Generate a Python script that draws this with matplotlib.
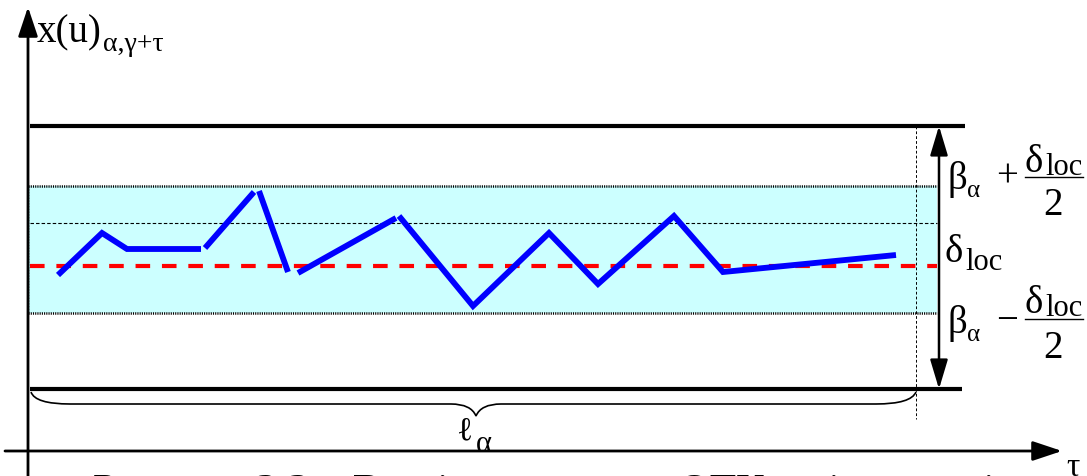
import matplotlib
matplotlib.use("Agg")
import matplotlib.pyplot as plt
import numpy as np
from matplotlib.path import Path
from matplotlib.patches import PathPatch
from matplotlib.transforms import Bbox

plt.rcParams['lines.scale_dashes'] = False
SERIF = ['Liberation Serif', 'DejaVu Serif']

# отрезки реализации (координаты в пикселях картинки, y вниз)
seg_tau = [
    [58, 102, 127, 201],
    [205, 254],
    [259, 288],
    [298, 396],
    [399, 473, 549, 598, 674, 723, 896],
]
seg_x = [
    [276, 234, 250, 250],
    [249, 193],
    [192, 273],
    [274, 219],
    [217, 307, 234, 285, 217, 273, 256],
]

upper_y, lower_y = 127, 390          # границы β ± ...
band_top, band_bot = 187, 314        # зона δ_loc
inner_y = 224
mean_y = 267
x_left, x_band_end, x_end = 30, 937, 965
l_end = 916                           # конец участка ℓα
brace_mid = 476
arrow_x = 939
x_axis_y, y_axis_x = 452, 28

W, H, EXTRA = 1087, 477, 60   # снизу запас под подпись, потом обрезаем
fig = plt.figure(figsize=(W / 100, (H + EXTRA) / 100), dpi=100)
ax = fig.add_axes([0, 0, 1, 1])
ax.set_xlim(0, W)
ax.set_ylim(H + EXTRA, 0)
ax.axis('off')

# полоса
ax.fill_between([x_left - 2, x_band_end], band_top, band_bot, color='#ccffff', lw=0, zorder=1)
ax.plot([x_left - 2, x_band_end], [band_top, band_top], color='k', lw=1.8, ls=(0, (0.8, 0.8)), zorder=2)
ax.plot([x_left - 2, x_band_end], [band_bot, band_bot], color='k', lw=1.8, ls=(0, (0.8, 0.8)), zorder=2)
ax.plot([x_left - 2, x_left - 2], [band_top, band_bot], color='k', lw=1, ls=(0, (1, 1)), zorder=2)
ax.plot([x_left, x_band_end], [inner_y, inner_y], color='k', lw=0.8, ls=(0, (2.5, 1.5)), zorder=2)
ax.plot([l_end, l_end], [upper_y, 420], color='k', lw=0.7, ls=(0, (2, 1.5)), zorder=2)

# границы
ax.plot([x_left, x_end], [upper_y, upper_y], color='k', lw=3, solid_capstyle='butt', zorder=3)
ax.plot([x_left, x_end - 3], [lower_y, lower_y], color='k', lw=3, solid_capstyle='butt', zorder=3)

# среднее
ax.plot([x_left, x_band_end], [mean_y, mean_y], color='red', lw=3, dashes=(10.5, 8.5), zorder=3)

# реализация
for t, v in zip(seg_tau, seg_x):
    ax.plot(t, v, color='#0000ff', lw=4.2, solid_capstyle='butt', solid_joinstyle='miter', zorder=4)

# двойная стрелка
ax.annotate('', xy=(arrow_x, upper_y), xytext=(arrow_x, lower_y),
            arrowprops=dict(arrowstyle='<|-|>,head_length=1.5,head_width=0.45',
                            color='k', lw=1.8, shrinkA=0, shrinkB=0, mutation_scale=12), zorder=5)

# оси
ax.annotate('', xy=(y_axis_x, 8), xytext=(y_axis_x, H + EXTRA),
            arrowprops=dict(arrowstyle='-|>,head_length=1.5,head_width=0.5',
                            color='k', lw=2, shrinkA=0, shrinkB=0, mutation_scale=12), zorder=5)
ax.annotate('', xy=(1062, x_axis_y), xytext=(5, x_axis_y),
            arrowprops=dict(arrowstyle='-|>,head_length=1.5,head_width=0.5',
                            color='k', lw=2, shrinkA=0, shrinkB=0, mutation_scale=12), zorder=5)

# фигурная скобка ℓα
top, flat, tip = lower_y + 3, 405, 417
verts = [(x_left + 1, top), (x_left + 5, flat), (x_left + 40, flat),
         (brace_mid - 25, flat), (brace_mid - 5, flat), (brace_mid, tip),
         (brace_mid + 5, flat), (brace_mid + 25, flat),
         (l_end - 40, flat), (l_end - 5, flat), (l_end, top)]
codes = [Path.MOVETO, Path.CURVE3, Path.CURVE3,
         Path.LINETO, Path.CURVE3, Path.CURVE3,
         Path.CURVE3, Path.CURVE3,
         Path.LINETO, Path.CURVE3, Path.CURVE3]
ax.add_patch(PathPatch(Path(verts, codes), fill=False, lw=1.2, color='k', zorder=5))

# подписи
ax.text(37, 42, 'x(u)', family=SERIF, fontsize=28, va='baseline')
ax.text(103, 51, 'α,γ+τ', family=SERIF, fontsize=20, va='baseline')

ax.text(457, 439, 'ℓ', family=SERIF, fontsize=24, va='baseline')
ax.text(476, 452, 'α', family=SERIF, fontsize=22, va='baseline')
ax.text(1066, 476, 'τ', family=SERIF, fontsize=24, va='baseline')

big, sub, loc = 28, 18, 22
# β + δ/2
ax.text(948, 189, 'β', family=SERIF, fontsize=big, va='baseline')
ax.text(967, 197, 'α', family=SERIF, fontsize=sub, va='baseline')
ax.text(1007, 177, '+', family=SERIF, fontsize=big, va='center', ha='center')
ax.text(1025, 172, 'δ', family=SERIF, fontsize=big, va='baseline')
ax.text(1045, 175, 'loc', family=SERIF, fontsize=loc, va='baseline')
ax.plot([1025, 1083], [178, 178], color='k', lw=1)
ax.text(1053, 215, '2', family=SERIF, fontsize=big, va='baseline', ha='center')
# δloc
ax.text(945, 262, 'δ', family=SERIF, fontsize=big, va='baseline')
ax.text(965, 270, 'loc', family=SERIF, fontsize=loc, va='baseline')
# β − δ/2
ax.text(948, 333, 'β', family=SERIF, fontsize=big, va='baseline')
ax.text(967, 341, 'α', family=SERIF, fontsize=sub, va='baseline')
ax.text(1007, 322, '−', family=SERIF, fontsize=big, va='center', ha='center')
ax.text(1025, 313, 'δ', family=SERIF, fontsize=big, va='baseline')
ax.text(1045, 316, 'loc', family=SERIF, fontsize=loc, va='baseline')
ax.plot([1025, 1083], [320, 320], color='k', lw=1)
ax.text(1053, 358, '2', family=SERIF, fontsize=big, va='baseline', ha='center')

# подпись рисунка (видна только верхняя часть)
ax.text(93, 503, 'Рисунок 3.3 – Вид інтервальної ОТК на інтервалі',
        family=SERIF, fontsize=31, va='baseline')

fig.savefig('out.png', dpi=100,
            bbox_inches=Bbox.from_bounds(0, EXTRA / 100, W / 100, H / 100))
